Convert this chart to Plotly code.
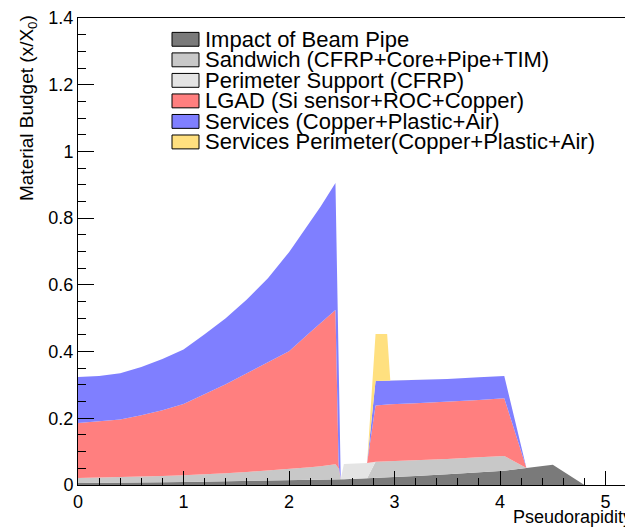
import plotly.graph_objects as go

# pseudorapidity grid (knots)
eta = [0.0, 0.2, 0.4, 0.6, 0.8, 1.0, 1.2, 1.4, 1.6, 1.8, 2.0, 2.2, 2.3, 2.44, 2.47,
       2.49, 2.52, 2.74, 2.82, 2.93, 2.96, 3.2, 3.5, 3.8, 4.04, 4.25, 4.5, 4.8, 5.3]

# cumulative tops of the stacked layers (x/X0)
beam_pipe_top = [0.006, 0.006, 0.007, 0.008, 0.008, 0.009, 0.010, 0.011, 0.012, 0.013, 0.014,
                 0.015, 0.015, 0.016, 0.016, 0.017, 0.017, 0.020, 0.021, 0.022, 0.023, 0.027,
                 0.032, 0.037, 0.043, 0.051, 0.061, 0.0, 0.0]
sandwich_top = [0.021, 0.022, 0.023, 0.025, 0.027, 0.029, 0.031, 0.035, 0.039, 0.043, 0.048,
                0.053, 0.056, 0.062, 0.050, 0.017, 0.017, 0.020, 0.070, 0.071, 0.071, 0.074,
                0.078, 0.083, 0.087, 0.051, 0.061, 0.0, 0.0]
perimeter_top = [0.021, 0.022, 0.023, 0.025, 0.027, 0.029, 0.031, 0.035, 0.039, 0.043, 0.048,
                 0.053, 0.056, 0.062, 0.050, 0.017, 0.063, 0.066, 0.070, 0.071, 0.071, 0.074,
                 0.078, 0.083, 0.087, 0.051, 0.061, 0.0, 0.0]
lgad_top = [0.186, 0.190, 0.196, 0.209, 0.224, 0.243, 0.273, 0.302, 0.335, 0.367, 0.401,
            0.458, 0.485, 0.525, 0.060, 0.017, 0.063, 0.066, 0.238, 0.241, 0.242, 0.245,
            0.249, 0.255, 0.260, 0.051, 0.061, 0.0, 0.0]
services_top = [0.324, 0.327, 0.335, 0.354, 0.378, 0.406, 0.452, 0.500, 0.556, 0.620, 0.698,
                0.788, 0.835, 0.905, 0.380, 0.017, 0.063, 0.066, 0.312, 0.313, 0.313, 0.315,
                0.318, 0.323, 0.327, 0.051, 0.061, 0.0, 0.0]
services_perim_top = [0.324, 0.327, 0.335, 0.354, 0.378, 0.406, 0.452, 0.500, 0.556, 0.620, 0.698,
                      0.788, 0.835, 0.905, 0.380, 0.017, 0.063, 0.066, 0.453, 0.453, 0.313, 0.315,
                      0.318, 0.323, 0.327, 0.051, 0.061, 0.0, 0.0]

labels = ["Impact of Beam Pipe",
          "Sandwich (CFRP+Core+Pipe+TIM)",
          "Perimeter Support (CFRP)",
          "LGAD (Si sensor+ROC+Copper)",
          "Services (Copper+Plastic+Air)",
          "Services Perimeter(Copper+Plastic+Air)"]
colors = ["#7a7a7a", "#c8c8c8", "#e4e4e4", "#ff7f7f", "#7f7fff", "#ffe07f"]
tops = [beam_pipe_top, sandwich_top, perimeter_top, lgad_top, services_top, services_perim_top]

FONT = "Liberation Sans, Arial, Helvetica, sans-serif"

fig = go.Figure()

for i, (lab, top, col) in enumerate(zip(labels, tops, colors)):
    fig.add_trace(go.Scatter(
        x=eta, y=top, name=lab, mode="lines",
        line=dict(width=0, color=col),
        fill="tozeroy" if i == 0 else "tonexty",
        fillcolor=col, showlegend=False, hoverinfo="skip"))

# plot area in window pixels: x 78..633, y 14..485 (page body has an 8px margin)
W, L, T, B = 633, 78, 14, 485
PAGE = 8


def px_x(p):
    return (p - L) / (W - L)


def px_y(p):
    return (B - p) / (B - T)


# hand-made legend (ROOT style boxes)
for i, (lab, col) in enumerate(zip(labels, colors)):
    cy = 35.5 + 20.7 * i
    fig.add_shape(type="rect", xref="paper", yref="paper",
                  x0=px_x(172), x1=px_x(199), y0=px_y(cy + 7), y1=px_y(cy - 7),
                  fillcolor=col, line=dict(color="black", width=1))
    fig.add_annotation(text=lab, xref="paper", yref="paper", x=px_x(203), y=px_y(cy),
                       xanchor="left", yanchor="middle", showarrow=False,
                       font=dict(size=22, color="black", family=FONT))

fig.add_annotation(text="Material Budget (x/X<sub>0</sub>)", xref="paper", yref="paper",
                   x=px_x(28), y=px_y(9), xanchor="center", yanchor="top",
                   textangle=-90, showarrow=False,
                   font=dict(size=19, color="black", family=FONT))
fig.add_annotation(text="Pseudorapidity", xref="paper", yref="paper",
                   x=px_x(511), y=px_y(517), xanchor="left", yanchor="middle",
                   showarrow=False, font=dict(size=18, color="black", family=FONT))

fig.update_xaxes(range=[0, 5.26], dtick=1, tick0=0, ticks="inside", ticklen=14,
                 tickcolor="black", showline=True, linecolor="black", linewidth=1,
                 mirror=True, showgrid=False, zeroline=False, layer="above traces",
                 ticklabeloverflow="allow",
                 tickfont=dict(size=18, family=FONT, color="black"),
                 minor=dict(dtick=0.2, ticks="inside", ticklen=7, tickcolor="black"))
fig.update_yaxes(range=[0, 1.4], dtick=0.2, tick0=0, ticks="inside", ticklen=16,
                 tickcolor="black", showline=True, linecolor="black", linewidth=1,
                 showgrid=False, zeroline=False, layer="above traces",
                 tickformat="~g", ticklabeloverflow="allow",
                 tickfont=dict(size=18, family=FONT, color="black"),
                 minor=dict(dtick=0.05, ticks="inside", ticklen=8, tickcolor="black"))

fig.update_layout(width=W - PAGE, height=527 - PAGE,
                  margin=dict(l=L - PAGE, r=0, t=T - PAGE, b=527 - B),
                  plot_bgcolor="white", paper_bgcolor="white",
                  font=dict(family=FONT, color="black"),
                  showlegend=False)

fig.write_html("out.html")
